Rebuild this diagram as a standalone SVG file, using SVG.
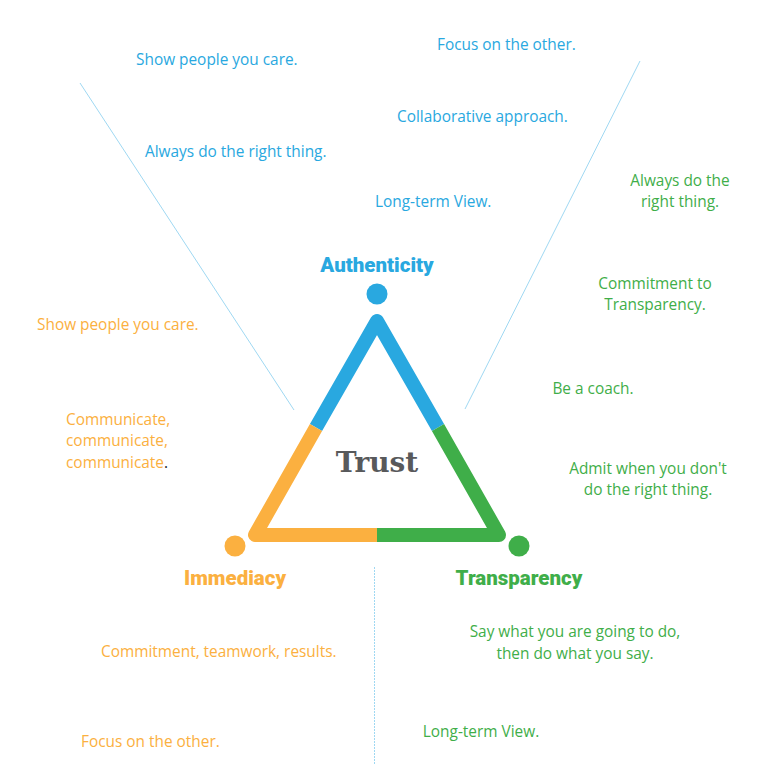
<svg xmlns="http://www.w3.org/2000/svg" width="768" height="764" viewBox="0 0 768 764">
<style>
.t{font-family:"Open Sans","Liberation Sans",sans-serif;font-size:15.4px}
.b{fill:#29a8e0}.g{fill:#3fae49}.o{fill:#fbb040}
.h{font-family:Roboto,"Liberation Sans",sans-serif;font-weight:900;font-size:20.5px}
.ln{stroke:#9fd8f2;stroke-width:1;fill:none}
.tri{fill:none;stroke-width:14;stroke-linejoin:round;stroke-linecap:butt}
</style>
<rect width="768" height="764" fill="#fff"/>
<g id="connectors">
<line class="ln" x1="80" y1="83" x2="294" y2="410"/>
<line class="ln" x1="640" y1="61" x2="465" y2="409"/>
<line class="ln" x1="374.5" y1="567" x2="374.5" y2="764" stroke-dasharray="2 1"/>
</g>
<g id="triangle">
<path class="tri" stroke="#29a8e0" d="M316,427.5 L377,321 L438,427.5"/>
<path class="tri" stroke="#fbb040" d="M316,427.5 L255,535 L377,535"/>
<path class="tri" stroke="#3fae49" d="M377,535 L499,535 L438,427.5"/>
<text x="377" y="472" text-anchor="middle" font-family="DejaVu Serif,serif" font-weight="bold" font-size="28" fill="#58595b">Trust</text>
</g>
<g id="authenticity">
<circle cx="377" cy="294" r="10.5" fill="#29a8e0"/>
<text class="h b" x="377" y="272" text-anchor="middle">Authenticity</text>
</g>
<g id="immediacy">
<circle cx="235" cy="546" r="10.5" fill="#fbb040"/>
<text class="h o" x="235" y="585" text-anchor="middle">Immediacy</text>
</g>
<g id="transparency">
<circle cx="519" cy="546" r="10.5" fill="#3fae49"/>
<text class="h g" x="519" y="585" text-anchor="middle">Transparency</text>
</g>
<g id="blue-texts" class="t b">
<text x="136" y="65">Show people you care.</text>
<text x="437" y="50">Focus on the other.</text>
<text x="397" y="122">Collaborative approach.</text>
<text x="145" y="157">Always do the right thing.</text>
<text x="375" y="207">Long-term View.</text>
</g>
<g id="green-texts" class="t g" text-anchor="middle">
<text x="680" y="186">Always do the</text>
<text x="680" y="207">right thing.</text>
<text x="655" y="289">Commitment to</text>
<text x="655" y="310">Transparency.</text>
<text x="593" y="394">Be a coach.</text>
<text x="648" y="474">Admit when you don't</text>
<text x="648" y="495">do the right thing.</text>
<text x="575" y="637">Say what you are going to do,</text>
<text x="575" y="659">then do what you say.</text>
<text x="481" y="737">Long-term View.</text>
</g>
<g id="orange-texts" class="t o">
<text x="37" y="330">Show people you care.</text>
<text x="66" y="425">Communicate,</text>
<text x="66" y="446">communicate,</text>
<text x="66" y="468">communicate<tspan fill="#231f20">.</tspan></text>
<text x="101" y="657">Commitment, teamwork, results.</text>
<text x="81" y="747">Focus on the other.</text>
</g>
</svg>
